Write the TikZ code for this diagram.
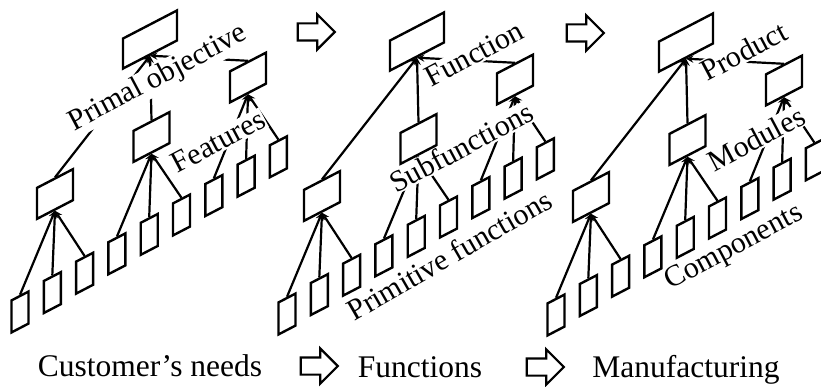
\documentclass[tikz,border=0pt]{standalone}
\usepackage{fontspec}
\setmainfont{Liberation Serif}
\usetikzlibrary{shapes.arrows}
\tikzset{
  plate/.style={draw, line width=2.4pt, fill=white, inner sep=0pt, yslant=0.52},
  topbox/.style={plate, minimum width=54pt, minimum height=30pt},
  midbox/.style={plate, minimum width=36pt, minimum height=31pt},
  leafbox/.style={plate, minimum width=17pt, minimum height=32pt},
  link/.style={->, line width=2.2pt},
  tag/.style={anchor=base, fill=white, inner sep=1pt, rotate=#1, font=\fontsize{30}{30}\selectfont},
  tag/.default=28,
  capt/.style={anchor=base, font=\fontsize{31.5}{32}\selectfont},
  flow/.style={draw, line width=2.2pt, single arrow, single arrow head extend=9pt,
    inner sep=0pt, inner ysep=7.5pt, minimum height=37pt},
}
\begin{document}
\begin{tikzpicture}[>=stealth, x=1pt, y=-1pt]
\useasboundingbox (0,0) rectangle (821,387);
% the same tree in all three stages
\foreach \p/\dx/\dy in {1/0/0, 2/267/2, 3/536/3} {
  \begin{scope}[shift={(\dx,\dy)}]
    \node[topbox] (top\p) at (150,39.5) {};
    \node[midbox] (midL\p) at (55,194) {};
    \node[midbox] (midM\p) at (151.5,137) {};
    \node[midbox] (midR\p) at (248,77.5) {};
    \foreach \i in {1,...,9}
      \node[leafbox] (leaf\p-\i) at ({20+32.3*(\i-1)},{312-19.4*(\i-1)}) {};
    \draw[link] (midL\p.north) -- (top\p.south);
    \draw[link] (midM\p.north) -- (top\p.south);
    \draw[link] (midR\p.north) -- (top\p.south);
    \foreach \i in {1,2,3} \draw[link] (leaf\p-\i.north) -- (midL\p.south);
    \foreach \i in {4,5,6} \draw[link] (leaf\p-\i.north) -- (midM\p.south);
    \foreach \i in {7,8,9} \draw[link] (leaf\p-\i.north) -- (midR\p.south);
  \end{scope}
}
% labels on the trees
\node[tag] (primal) at (161.5,85) {Primal objective};
\node[tag] (features) at (222.5,150) {Features};
\node[tag] (function) at (479,62.5) {Function};
\node[tag] (subfunctions) at (466,156.5) {Subfunctions};
\node[tag=30] (primitive) at (454.5,264) {Primitive functions};
\node[tag] (product) at (748.5,60) {Product};
\node[tag] (modules) at (761,147.5) {Modules};
\node[tag] (components) at (737.5,254) {Components};
% hollow arrows
\node[flow] (step1) at (312,32) {};
\node[flow] (step2) at (581,33) {};
\node[flow] (next1) at (315,366) {};
\node[flow] (next2) at (541,367) {};
% captions
\node[capt] (needs) at (150,376) {Customer’s needs};
\node[capt] (functions) at (420,377) {Functions};
\node[capt] (manufacturing) at (686,377) {Manufacturing};
\end{tikzpicture}
\end{document}
